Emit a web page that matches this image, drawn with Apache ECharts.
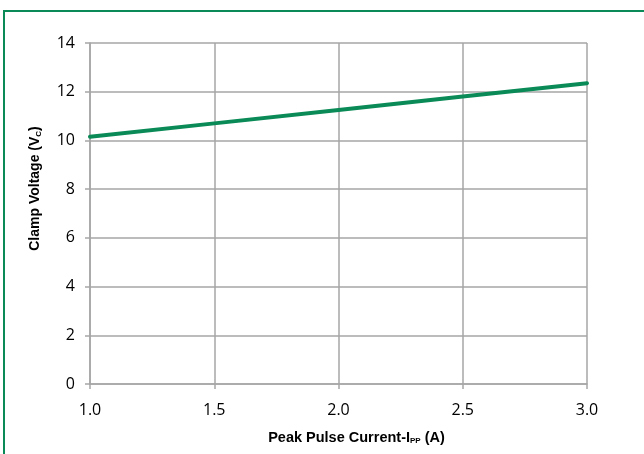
<!DOCTYPE html>
<html><head><meta charset="utf-8">
<script src="https://cdn.jsdelivr.net/npm/echarts@6/dist/echarts.min.js"></script>
<style>html,body{margin:0;padding:0;background:#fff}#c{width:644px;height:454px}</style>
</head><body><div id="c"></div>
<script>
const currentA = [1.0, 1.5, 2.0, 2.5, 3.0];
const clampV = [10.15, 10.7, 11.25, 11.8, 12.35];
const xTicks = ['1.0','1.5','2.0','2.5','3.0'];
const yTicks = [0,2,4,6,8,10,12,14];

const chart = echarts.init(document.getElementById('c'), null, {renderer:'canvas'});
const gridCol = '#a6a6a6';
const tickFont = '"Open Sans", "Liberation Sans", sans-serif';
const titleFont = '"Liberation Sans", Arial, sans-serif';
const subStyle = {fontSize:8, fontWeight:'bold', fontFamily:titleFont, padding:[7,0,0,0], color:'#000'};
chart.setOption({
  animation:false,
  graphic:[{type:'rect', shape:{x:4, y:11, width:700, height:500}, style:{fill:'none', stroke:'#0a8a56', lineWidth:2}, silent:true}],
  grid:{left:90, right:57, top:43, bottom:70},
  xAxis:{type:'value', min:1.0, max:3.0, interval:0.5,
    name:'Peak Pulse Current-I{sub|PP} (A)', nameLocation:'middle', nameGap:46,
    nameTextStyle:{fontFamily:titleFont, fontWeight:'bold', fontSize:14.5, color:'#000', padding:[0,0,0,36], rich:{sub:subStyle}},
    axisLine:{show:true, lineStyle:{color:gridCol, width:1.5}},
    axisTick:{show:true, inside:false, length:5, lineStyle:{color:gridCol, width:1.5}},
    splitLine:{show:true, lineStyle:{color:gridCol, width:1.5}},
    axisLabel:{fontFamily:tickFont, fontSize:16, color:'#000', margin:18,
      formatter:(v)=>xTicks[Math.round((v-1)/0.5)]}
  },
  yAxis:{type:'value', min:0, max:14, interval:2,
    name:'Clamp Voltage (V{sub|C})', nameLocation:'middle', nameGap:47,
    nameTextStyle:{fontFamily:titleFont, fontWeight:'bold', fontSize:14, color:'#000', padding:[0,0,0,50], rich:{sub:subStyle}},
    axisLine:{show:true, lineStyle:{color:gridCol, width:1.5}},
    axisTick:{show:true, length:5, lineStyle:{color:gridCol, width:1.5}},
    splitLine:{show:true, lineStyle:{color:gridCol, width:1.5}},
    axisLabel:{fontFamily:tickFont, fontSize:16, color:'#000', margin:15,
      formatter:(v)=>String(yTicks[Math.round(v/2)])}
  },
  series:[{type:'line', data:currentA.map((x,i)=>[x, clampV[i]]), showSymbol:false, clip:false,
    lineStyle:{color:'#0a8a56', width:4, cap:'round'}}]
});
</script></body></html>
